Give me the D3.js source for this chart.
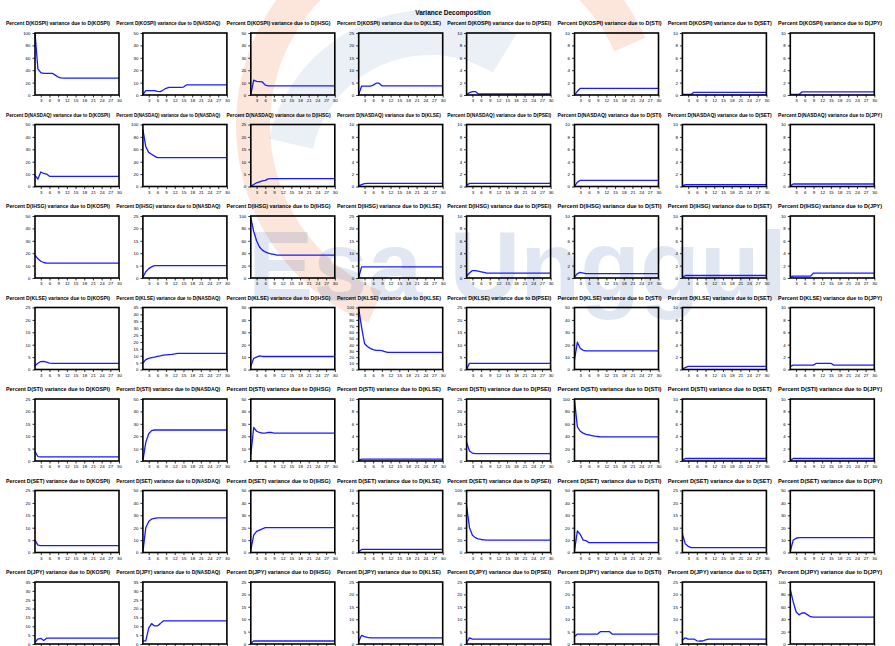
<!DOCTYPE html>
<html>
<head>
<meta charset="utf-8">
<script src="https://cdn.jsdelivr.net/npm/d3@7"></script>
<style>
  html, body { margin: 0; padding: 0; background: #ffffff; }
  svg { display: block; }
</style>
</head>
<body>
<svg id="chart" width="895" height="646"></svg>
<script>
// ---- data -------------------------------------------------------------
const chartTitle = "Variance Decomposition";
const periods = d3.range(1, 31);
const xTickValues = [3, 6, 9, 12, 15, 18, 21, 24, 27, 30];

const rowVars = ["D(KOSPI)", "D(NASDAQ)", "D(IHSG)", "D(KLSE)", "D(STI)", "D(SET)", "D(JPY)"];
const colVars = ["D(KOSPI)", "D(NASDAQ)", "D(IHSG)", "D(KLSE)", "D(PSEI)", "D(STI)", "D(SET)", "D(JPY)"];

// upper bound of each panel's value axis, per row
const yMaxRow1 = [100, 50, 50, 25, 10, 10, 10, 10];
const yMaxRow2 = [50, 100, 25, 10, 10, 10, 10, 10];
const yMaxRow3 = [50, 25, 100, 25, 10, 10, 10, 10];
const yMaxRow4 = [25, 45, 50, 100, 25, 50, 10, 10];
const yMaxRow5 = [25, 50, 50, 10, 25, 100, 10, 10];
const yMaxRow6 = [25, 50, 50, 10, 100, 50, 25, 50];
const yMaxRow7 = [35, 35, 25, 25, 25, 25, 25, 100];

// tick spacing of each panel's value axis, per row
const yStepRow1 = [20, 10, 10, 5, 2, 2, 2, 2];
const yStepRow2 = [10, 20, 5, 2, 2, 2, 2, 2];
const yStepRow3 = [10, 5, 20, 5, 2, 2, 2, 2];
const yStepRow4 = [5, 5, 10, 10, 5, 10, 2, 2];
const yStepRow5 = [5, 10, 10, 2, 5, 20, 2, 2];
const yStepRow6 = [5, 10, 10, 2, 20, 10, 5, 10];
const yStepRow7 = [5, 5, 5, 5, 5, 5, 5, 20];

// percent of forecast-error variance, periods 1..30
const row1Series = [
  [100,42,36,35,35,35,35,32,29,27.5, 27.3,27.3,27.3,27.3,27.3,27.3,27.3,27.3,27.3,27.3, 27.3,27.3,27.3,27.3,27.3,27.3,27.3,27.3,27.3,27.3],
  [0.3,3.5,3.5,3.5,3.5,2.9,2.7,4.0,5.4,6.2, 6.2,6.2,6.2,6.2,6.4,8.1,8.1,8.1,8.1,8.1, 8.1,8.1,8.1,8.1,8.1,8.1,8.1,8.1,8.1,8.1],
  [0.5,12,11,10.8,10.5,8,7.3,7.3,7.3,7.3, 7.3,7.3,7.3,7.3,7.3,7.3,7.3,7.3,7.3,7.3, 7.3,7.3,7.3,7.3,7.3,7.3,7.3,7.3,7.3,7.3],
  [0.2,3.6,3.6,3.6,3.6,4.0,4.75,4.75,3.7,3.65, 3.65,3.65,3.65,3.65,3.65,3.65,3.65,3.65,3.65,3.65, 3.65,3.65,3.65,3.65,3.65,3.65,3.65,3.65,3.65,3.65],
  [0,0.4,0.55,0.55,0.2,0.16,0.16,0.16,0.16,0.16, 0.16,0.16,0.16,0.16,0.16,0.16,0.16,0.16,0.16,0.16, 0.16,0.16,0.16,0.16,0.16,0.16,0.16,0.16,0.16,0.16],
  [0,0.6,1.08,1.08,1.08,1.08,1.08,1.08,1.08,1.08, 1.08,1.08,1.08,1.08,1.08,1.08,1.08,1.08,1.08,1.08, 1.08,1.08,1.08,1.08,1.08,1.08,1.08,1.08,1.08,1.08],
  [0.1,0.1,0.1,0.1,0.43,0.43,0.43,0.43,0.43,0.43, 0.43,0.43,0.43,0.43,0.43,0.43,0.43,0.43,0.43,0.43, 0.43,0.43,0.43,0.43,0.43,0.43,0.43,0.43,0.43,0.43],
  [0.1,0.1,0.1,0.1,0.49,0.49,0.49,0.49,0.49,0.49, 0.49,0.49,0.49,0.49,0.49,0.49,0.49,0.49,0.49,0.49, 0.49,0.49,0.49,0.49,0.49,0.49,0.49,0.49,0.49,0.49]
];
const row2Series = [
  [9,6,11.7,10.5,10,8.2,8.2,8.2,8.2,8.2, 8.2,8.2,8.2,8.2,8.2,8.2,8.2,8.2,8.2,8.2, 8.2,8.2,8.2,8.2,8.2,8.2,8.2,8.2,8.2,8.2],
  [92,64,55,52,49,46.5,46.5,46.5,46.5,46.5, 46.5,46.5,46.5,46.5,46.5,46.5,46.5,46.5,46.5,46.5, 46.5,46.5,46.5,46.5,46.5,46.5,46.5,46.5,46.5,46.5],
  [0.1,0.8,1.5,1.9,2.3,2.5,3.1,3.15,3.15,3.15, 3.15,3.15,3.15,3.15,3.15,3.15,3.15,3.15,3.15,3.15, 3.15,3.15,3.15,3.15,3.15,3.15,3.15,3.15,3.15,3.15],
  [0.1,0.3,0.45,0.5,0.5,0.5,0.5,0.5,0.5,0.5, 0.5,0.5,0.5,0.5,0.5,0.5,0.5,0.5,0.5,0.5, 0.5,0.5,0.5,0.5,0.5,0.5,0.5,0.5,0.5,0.5],
  [0.2,0.5,0.5,0.5,0.5,0.5,0.5,0.5,0.5,0.5, 0.5,0.5,0.5,0.5,0.5,0.5,0.5,0.5,0.5,0.5, 0.5,0.5,0.5,0.5,0.5,0.5,0.5,0.5,0.5,0.5],
  [0.05,0.7,1.0,1.0,1.0,1.0,1.0,1.0,1.0,1.0, 1.0,1.0,1.0,1.0,1.0,1.0,1.0,1.0,1.0,1.0, 1.0,1.0,1.0,1.0,1.0,1.0,1.0,1.0,1.0,1.0],
  [0.1,0.3,0.3,0.3,0.3,0.3,0.3,0.3,0.3,0.3, 0.3,0.3,0.3,0.3,0.3,0.3,0.3,0.3,0.3,0.3, 0.3,0.3,0.3,0.3,0.3,0.3,0.3,0.3,0.3,0.3],
  [0.1,0.4,0.4,0.4,0.4,0.4,0.4,0.4,0.4,0.4, 0.4,0.4,0.4,0.4,0.4,0.4,0.4,0.4,0.4,0.4, 0.4,0.4,0.4,0.4,0.4,0.4,0.4,0.4,0.4,0.4]
];
const row3Series = [
  [18.5,15.5,13.5,12.5,12,12,12,12,12,12, 12,12,12,12,12,12,12,12,12,12, 12,12,12,12,12,12,12,12,12,12],
  [0.3,2.5,3.8,4.5,5,5,5,5,5,5, 5,5,5,5,5,5,5,5,5,5, 5,5,5,5,5,5,5,5,5,5],
  [97,75,60,50,45,42,40,39,38,37, 37,37,37,37,37,37,37,37,37,37, 37,37,37,37,37,37,37,37,37,37],
  [0.2,4.5,4.5,4.5,4.5,4.5,4.5,4.5,4.5,4.5, 4.5,4.5,4.5,4.5,4.5,4.5,4.5,4.5,4.5,4.5, 4.5,4.5,4.5,4.5,4.5,4.5,4.5,4.5,4.5,4.5],
  [0.3,0.8,1.2,1.2,1.1,1.0,0.9,0.8,0.8,0.8, 0.8,0.8,0.8,0.8,0.8,0.8,0.8,0.8,0.8,0.8, 0.8,0.8,0.8,0.8,0.8,0.8,0.8,0.8,0.8,0.8],
  [0.2,0.7,0.9,0.8,0.7,0.7,0.7,0.7,0.7,0.7, 0.7,0.7,0.7,0.7,0.7,0.7,0.7,0.7,0.7,0.7, 0.7,0.7,0.7,0.7,0.7,0.7,0.7,0.7,0.7,0.7],
  [0.1,0.4,0.4,0.4,0.4,0.4,0.4,0.4,0.4,0.4, 0.4,0.4,0.4,0.4,0.4,0.4,0.4,0.4,0.4,0.4, 0.4,0.4,0.4,0.4,0.4,0.4,0.4,0.4,0.4,0.4],
  [0.2,0.3,0.3,0.3,0.3,0.3,0.3,0.3,0.8,0.8, 0.8,0.8,0.8,0.8,0.8,0.8,0.8,0.8,0.8,0.8, 0.8,0.8,0.8,0.8,0.8,0.8,0.8,0.8,0.8,0.8]
];
const row4Series = [
  [1.5,2.5,3.2,3.3,3.0,2.6,2.5,2.5,2.5,2.5, 2.5,2.5,2.5,2.5,2.5,2.5,2.5,2.5,2.5,2.5, 2.5,2.5,2.5,2.5,2.5,2.5,2.5,2.5,2.5,2.5],
  [4.7,7.2,8.1,8.6,9,9.5,9.9,10.4,10.6,10.8, 11,11.3,11.7,11.7,11.7,11.7,11.7,11.7,11.7,11.7, 11.7,11.7,11.7,11.7,11.7,11.7,11.7,11.7,11.7,11.7],
  [2.5,9,10,11,10.5,10.5,10.5,10.5,10.5,10.5, 10.5,10.5,10.5,10.5,10.5,10.5,10.5,10.5,10.5,10.5, 10.5,10.5,10.5,10.5,10.5,10.5,10.5,10.5,10.5,10.5],
  [98,68,42,37,34,32,31,31,30.5,29, 27.5,27.5,27.5,27.5,27.5,27.5,27.5,27.5,27.5,27.5, 27.5,27.5,27.5,27.5,27.5,27.5,27.5,27.5,27.5,27.5],
  [0.1,2.5,2.5,2.5,2.5,2.5,2.5,2.5,2.5,2.5, 2.5,2.5,2.5,2.5,2.5,2.5,2.5,2.5,2.5,2.5, 2.5,2.5,2.5,2.5,2.5,2.5,2.5,2.5,2.5,2.5],
  [8,22,17,15.5,15,15,15,15,15,15, 15,15,15,15,15,15,15,15,15,15, 15,15,15,15,15,15,15,15,15,15],
  [0.1,0.3,0.5,0.5,0.5,0.5,0.5,0.5,0.5,0.5, 0.5,0.5,0.5,0.5,0.5,0.5,0.5,0.5,0.5,0.5, 0.5,0.5,0.5,0.5,0.5,0.5,0.5,0.5,0.5,0.5],
  [0.5,0.7,0.7,0.7,0.7,0.7,0.7,0.7,0.7,1.0, 1.0,1.0,1.0,1.0,1.0,0.7,0.7,0.7,0.7,0.7, 0.7,0.7,0.7,0.7,0.7,0.7,0.7,0.7,0.7,0.7]
];
const row5Series = [
  [3.8,1.8,1.7,1.7,1.7,1.7,1.7,1.7,1.7,1.7, 1.7,1.7,1.7,1.7,1.7,1.7,1.7,1.7,1.7,1.7, 1.7,1.7,1.7,1.7,1.7,1.7,1.7,1.7,1.7,1.7],
  [0.5,15,22,24.5,25,25,25,25,25,25, 25,25,25,25,25,25,25,25,25,25, 25,25,25,25,25,25,25,25,25,25],
  [5,27,24,23,22.5,22.5,23,23,22.5,22.5, 22.5,22.5,22.5,22.5,22.5,22.5,22.5,22.5,22.5,22.5, 22.5,22.5,22.5,22.5,22.5,22.5,22.5,22.5,22.5,22.5],
  [0.1,0.3,0.3,0.3,0.3,0.3,0.3,0.3,0.3,0.3, 0.3,0.3,0.3,0.3,0.3,0.3,0.3,0.3,0.3,0.3, 0.3,0.3,0.3,0.3,0.3,0.3,0.3,0.3,0.3,0.3],
  [7.5,4,3.2,3,3,3,3,3,3,3, 3,3,3,3,3,3,3,3,3,3, 3,3,3,3,3,3,3,3,3,3],
  [98,55,48,45,43,42,41,40,39.5,39, 39,39,39,39,39,39,39,39,39,39, 39,39,39,39,39,39,39,39,39,39],
  [0.1,0.4,0.4,0.4,0.4,0.4,0.4,0.4,0.4,0.4, 0.4,0.4,0.4,0.4,0.4,0.4,0.4,0.4,0.4,0.4, 0.4,0.4,0.4,0.4,0.4,0.4,0.4,0.4,0.4,0.4],
  [0.1,0.4,0.4,0.4,0.4,0.4,0.4,0.4,0.4,0.4, 0.4,0.4,0.4,0.4,0.4,0.4,0.4,0.4,0.4,0.4, 0.4,0.4,0.4,0.4,0.4,0.4,0.4,0.4,0.4,0.4]
];
const row6Series = [
  [5,3,2.8,2.8,2.8,2.8,2.8,2.8,2.8,2.8, 2.8,2.8,2.8,2.8,2.8,2.8,2.8,2.8,2.8,2.8, 2.8,2.8,2.8,2.8,2.8,2.8,2.8,2.8,2.8,2.8],
  [0.5,20,25,27,27.5,28,28,28,28,28, 28,28,28,28,28,28,28,28,28,28, 28,28,28,28,28,28,28,28,28,28],
  [2,14,17,18,19,20,20,20,20,20, 20,20,20,20,20,20,20,20,20,20, 20,20,20,20,20,20,20,20,20,20],
  [0.1,0.5,0.5,0.5,0.5,0.5,0.5,0.5,0.5,0.5, 0.5,0.5,0.5,0.5,0.5,0.5,0.5,0.5,0.5,0.5, 0.5,0.5,0.5,0.5,0.5,0.5,0.5,0.5,0.5,0.5],
  [75,40,28,24,22,21,20.5,20,20,20, 20,20,20,20,20,20,20,20,20,20, 20,20,20,20,20,20,20,20,20,20],
  [1.5,17.5,14.5,10,9.5,8,8,8,8,8, 8,8,8,8,8,8,8,8,8,8, 8,8,8,8,8,8,8,8,8,8],
  [7.5,3.5,2.5,2,2,2,2,2,2,2, 2,2,2,2,2,2,2,2,2,2, 2,2,2,2,2,2,2,2,2,2],
  [1,10,11.5,12,12,12,12,12,12,12, 12,12,12,12,12,12,12,12,12,12, 12,12,12,12,12,12,12,12,12,12]
];
const row7Series = [
  [1,2.8,3.2,2.0,3.3,3.3,3.3,3.3,3.3,3.3, 3.3,3.3,3.3,3.3,3.3,3.3,3.3,3.3,3.3,3.3, 3.3,3.3,3.3,3.3,3.3,3.3,3.3,3.3,3.3,3.3],
  [1.75,1.75,9,11.5,10.2,10.2,11.5,13,13,13, 13,13,13,13,13,13,13,13,13,13, 13,13,13,13,13,13,13,13,13,13],
  [0.3,1.2,1.2,1.2,1.2,1.2,1.2,1.2,1.2,1.2, 1.2,1.2,1.2,1.2,1.2,1.2,1.2,1.2,1.2,1.2, 1.2,1.2,1.2,1.2,1.2,1.2,1.2,1.2,1.2,1.2],
  [1,3.5,3,2.7,2.5,2.5,2.5,2.5,2.5,2.5, 2.5,2.5,2.5,2.5,2.5,2.5,2.5,2.5,2.5,2.5, 2.5,2.5,2.5,2.5,2.5,2.5,2.5,2.5,2.5,2.5],
  [0.5,2.5,2,2,2,2,2,2,2,2, 2,2,2,2,2,2,2,2,2,2, 2,2,2,2,2,2,2,2,2,2],
  [3,4,4,4,4,4,4,4,4,5, 5,5,5,4,4,4,4,4,4,4, 4,4,4,4,4,4,4,4,4,4],
  [1.5,2.5,2,2,2,1.3,1.2,1.2,1.7,2, 2,2,2,2,2,2,2,2,2,2, 2,2,2,2,2,2,2,2,2,2],
  [88,68,52,47,50,50,47,44,43.5,43.5, 43.5,43.5,43.5,43.5,43.5,43.5,43.5,43.5,43.5,43.5, 43.5,43.5,43.5,43.5,43.5,43.5,43.5,43.5,43.5,43.5]
];

const seriesRows = [row1Series, row2Series, row3Series, row4Series, row5Series, row6Series, row7Series];
const yMaxRows = [yMaxRow1, yMaxRow2, yMaxRow3, yMaxRow4, yMaxRow5, yMaxRow6, yMaxRow7];
const yStepRows = [yStepRow1, yStepRow2, yStepRow3, yStepRow4, yStepRow5, yStepRow6, yStepRow7];

// ---- layout -----------------------------------------------------------
const panelLeft = 35, panelTop = 33;
const colPitch = 107.9, rowPitch = 91.5;
const panelW = 84, panelH = 62;
const headLeft = 6, headPitch = 110.3, headWidth = 104;
const font = "'Liberation Sans', Arial, sans-serif";

const svg = d3.select("#chart");

// faint institutional watermark behind the grid
const wm = svg.append("g").attr("class", "watermark");
wm.append("path")
  .attr("transform", "translate(450,125)")
  .attr("d", d3.arc()({ innerRadius: 180, outerRadius: 214, startAngle: -2.75, endAngle: 1.15 }))
  .attr("fill", "#f08a55")
  .attr("opacity", 0.22);
wm.append("path")
  .attr("transform", "translate(430,175)")
  .attr("d", d3.arc()({ innerRadius: 120, outerRadius: 165, startAngle: -1.35, endAngle: 0.55 }))
  .attr("fill", "#5a7fb8")
  .attr("opacity", 0.12);
wm.append("text")
  .attr("x", 248).attr("y", 300)
  .attr("font-family", font)
  .attr("font-weight", "bold")
  .attr("font-size", 98)
  .attr("fill", "#2a5aa8")
  .attr("opacity", 0.14)
  .text("Esa Unggul");

// main title
svg.append("text")
  .attr("x", 453).attr("y", 15)
  .attr("text-anchor", "middle")
  .attr("font-family", font)
  .attr("font-weight", "bold")
  .attr("font-size", 6.5)
  .attr("fill", "#000")
  .text(chartTitle);

const x = d3.scaleLinear().domain([1, 30]);

seriesRows.forEach((rowSeries, r) => {
  const y0 = panelTop + r * rowPitch;

  rowSeries.forEach((values, c) => {
    const x0 = panelLeft + c * colPitch;

    // panel heading, fitted into its slot of the heading strip
    svg.append("text")
      .attr("x", headLeft + c * headPitch).attr("y", y0 - 8)
      .attr("font-family", font)
      .attr("font-weight", "bold")
      .attr("font-size", 4.8)
      .attr("fill", "#000")
      .attr("textLength", headWidth)
      .attr("lengthAdjust", "spacingAndGlyphs")
      .text(`Percent ${rowVars[r]} variance due to ${colVars[c]}`);

    const g = svg.append("g").attr("transform", `translate(${x0},${y0})`);

    const xs = x.copy().range([0, panelW]);
    const ymax = yMaxRows[r][c];
    const ys = d3.scaleLinear().domain([0, ymax]).range([panelH, 0]);
    const yTicks = d3.range(0, ymax + 1e-9, yStepRows[r][c]);

    // value axis
    const yAxis = d3.axisLeft(ys).tickValues(yTicks).tickSize(2.5).tickPadding(2);
    const ya = g.append("g").call(yAxis);
    ya.select(".domain").remove();
    ya.selectAll("line").attr("stroke", "#000").attr("stroke-width", 0.8);
    ya.selectAll("text").attr("font-family", font).attr("font-size", 4.4).attr("fill", "#000");

    // period axis
    const xAxis = d3.axisBottom(xs).tickValues(xTickValues).tickSize(2.5).tickPadding(1.5);
    const xa = g.append("g").attr("transform", `translate(0,${panelH})`).call(xAxis);
    xa.select(".domain").remove();
    xa.selectAll("line").attr("stroke", "#000").attr("stroke-width", 0.8);
    xa.selectAll("text").attr("font-family", font).attr("font-size", 4.4).attr("fill", "#000");

    // decomposition line
    const line = d3.line().x((d, i) => xs(periods[i])).y(d => ys(d));
    g.append("path")
      .datum(values)
      .attr("d", line)
      .attr("fill", "none")
      .attr("stroke", "#1a1aff")
      .attr("stroke-width", 1.3)
      .attr("stroke-linejoin", "round");

    // frame
    g.append("rect")
      .attr("x", 0).attr("y", 0)
      .attr("width", panelW).attr("height", panelH)
      .attr("fill", "none")
      .attr("stroke", "#000")
      .attr("stroke-width", 1.6);
  });
});
</script>
</body>
</html>
